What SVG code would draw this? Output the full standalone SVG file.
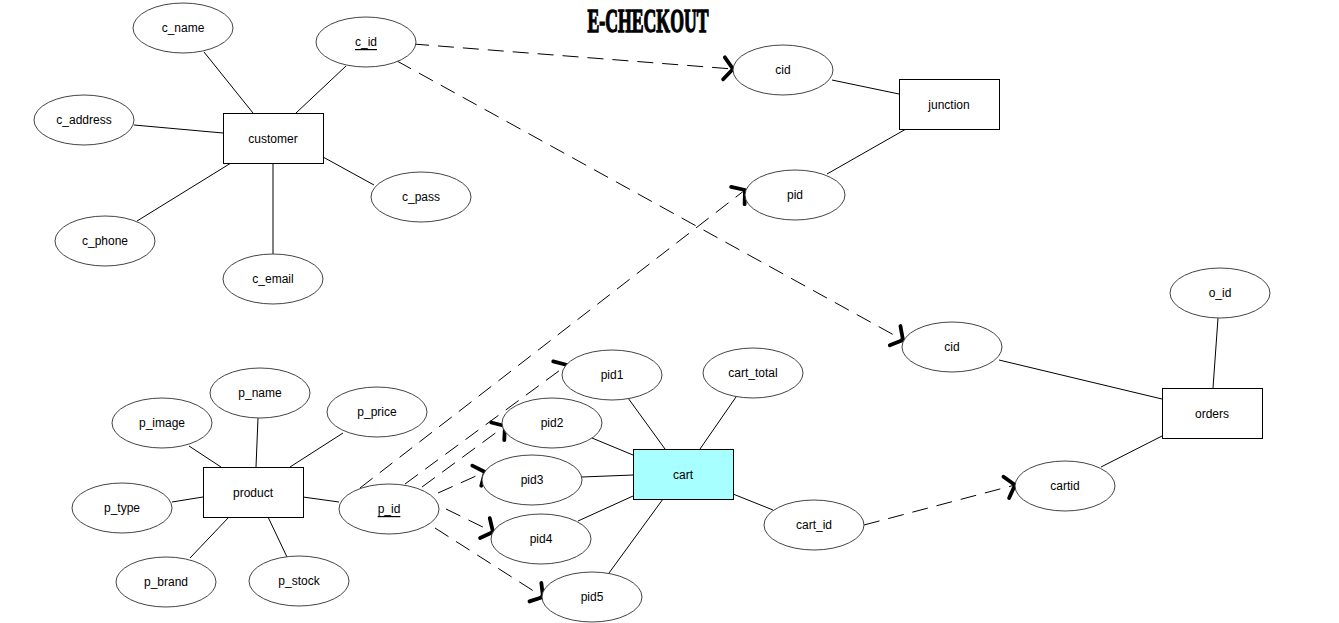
<svg xmlns="http://www.w3.org/2000/svg" width="1339" height="623" viewBox="0 0 1339 623">
<style>
.e{fill:#fff;stroke:#444;stroke-width:1}
.r{fill:#fff;stroke:#000;stroke-width:1}
.t{font-family:"Liberation Sans",Arial,sans-serif;font-size:12px;fill:#000;text-anchor:middle;dominant-baseline:central}
.u{text-decoration:underline}
.l{stroke:#000;stroke-width:1;fill:none}
.d{stroke:#000;stroke-width:1;fill:none;stroke-dasharray:16 9;marker-end:url(#ah)}
</style>
<defs>
<marker id="ah" markerUnits="userSpaceOnUse" markerWidth="24" markerHeight="28" refX="13" refY="14" orient="auto" viewBox="0 0 24 28">
<path d="M4,3 L13,14 L4,25" fill="none" stroke="#000" stroke-width="3.8" stroke-linecap="round" stroke-linejoin="round"/>
</marker>
</defs>
<rect width="1339" height="623" fill="#fff"/>
<text x="648" y="32" font-family="'Liberation Serif','DejaVu Serif',serif" font-weight="900" font-size="33" textLength="121" lengthAdjust="spacingAndGlyphs" text-anchor="middle" fill="#000" stroke="#000" stroke-width="1.4">E-CHECKOUT</text>
<g id="connectors">
<line class="l" x1="204" y1="52" x2="253" y2="113"/>
<line class="l" x1="346" y1="66" x2="296" y2="113"/>
<line class="l" x1="134" y1="125" x2="223" y2="133"/>
<line class="l" x1="323" y1="157" x2="374" y2="185"/>
<line class="l" x1="137" y1="221" x2="231" y2="163"/>
<line class="l" x1="273" y1="163" x2="273" y2="254"/>
<line class="l" x1="832" y1="80" x2="899" y2="94"/>
<line class="l" x1="827" y1="174" x2="906" y2="129"/>
<line class="l" x1="1218" y1="318" x2="1213" y2="388"/>
<line class="l" x1="999" y1="360" x2="1162" y2="399"/>
<line class="l" x1="1101" y1="467" x2="1162" y2="436"/>
<line class="l" x1="628" y1="398" x2="665" y2="449"/>
<line class="l" x1="736" y1="397" x2="700" y2="449"/>
<line class="l" x1="592" y1="438" x2="633" y2="455"/>
<line class="l" x1="582" y1="477" x2="633" y2="475"/>
<line class="l" x1="578" y1="521" x2="633" y2="496"/>
<line class="l" x1="609" y1="573" x2="663" y2="499"/>
<line class="l" x1="733" y1="494" x2="773" y2="510"/>
<line class="l" x1="258" y1="418" x2="256" y2="467"/>
<line class="l" x1="343" y1="433" x2="290" y2="467"/>
<line class="l" x1="189" y1="446" x2="221" y2="467"/>
<line class="l" x1="172" y1="502" x2="203" y2="497"/>
<line class="l" x1="190" y1="558" x2="229" y2="517"/>
<line class="l" x1="287" y1="557" x2="268" y2="517"/>
<line class="l" x1="303" y1="497" x2="339" y2="502"/>
<line class="d" x1="413" y1="44" x2="733" y2="69"/>
<line class="d" x1="397" y1="61" x2="903" y2="340"/>
<line class="d" x1="360" y1="488" x2="745" y2="190"/>
<line class="d" x1="405" y1="484" x2="567" y2="365"/>
<line class="d" x1="422" y1="487" x2="505" y2="426"/>
<line class="d" x1="438" y1="493" x2="485" y2="472"/>
<line class="d" x1="446" y1="509" x2="493" y2="532"/>
<line class="d" x1="435" y1="528" x2="543" y2="597"/>
<line class="d" x1="864" y1="525" x2="1015" y2="485"/>
</g>
<g id="c_name"><ellipse class="e" cx="183" cy="28" rx="50" ry="25"/><text class="t" x="183" y="28">c_name</text></g>
<g id="c_id"><ellipse class="e" cx="366" cy="42" rx="50" ry="25"/><text class="t u" x="366" y="42">c_id</text></g>
<g id="c_address"><ellipse class="e" cx="84" cy="120" rx="50" ry="25"/><text class="t" x="84" y="120">c_address</text></g>
<g id="customer"><rect class="r" x="223.5" y="113.5" width="100" height="50"/><text class="t" x="273" y="139">customer</text></g>
<g id="c_pass"><ellipse class="e" cx="421" cy="197" rx="50" ry="25"/><text class="t" x="421" y="197">c_pass</text></g>
<g id="c_phone"><ellipse class="e" cx="105" cy="241" rx="50" ry="25"/><text class="t" x="105" y="241">c_phone</text></g>
<g id="c_email"><ellipse class="e" cx="273" cy="279" rx="50" ry="25"/><text class="t" x="273" y="279">c_email</text></g>
<g id="j_cid"><ellipse class="e" cx="783" cy="70" rx="50" ry="25"/><text class="t" x="783" y="70">cid</text></g>
<g id="junction"><rect class="r" x="899.5" y="79.5" width="100" height="50"/><text class="t" x="949" y="105">junction</text></g>
<g id="j_pid"><ellipse class="e" cx="795" cy="195" rx="50" ry="25"/><text class="t" x="795" y="195">pid</text></g>
<g id="o_id"><ellipse class="e" cx="1220" cy="293" rx="50" ry="25"/><text class="t" x="1220" y="293">o_id</text></g>
<g id="o_cid"><ellipse class="e" cx="952" cy="347" rx="50" ry="25"/><text class="t" x="952" y="347">cid</text></g>
<g id="orders"><rect class="r" x="1162.5" y="388.5" width="100" height="50"/><text class="t" x="1212" y="414">orders</text></g>
<g id="cartid"><ellipse class="e" cx="1065" cy="486" rx="50" ry="25"/><text class="t" x="1065" y="486">cartid</text></g>
<g id="pid1"><ellipse class="e" cx="612" cy="375" rx="50" ry="25"/><text class="t" x="612" y="375">pid1</text></g>
<g id="cart_total"><ellipse class="e" cx="753" cy="373" rx="50" ry="25"/><text class="t" x="753" y="373">cart_total</text></g>
<g id="pid2"><ellipse class="e" cx="552" cy="423" rx="50" ry="25"/><text class="t" x="552" y="423">pid2</text></g>
<g id="pid3"><ellipse class="e" cx="532" cy="480" rx="50" ry="25"/><text class="t" x="532" y="480">pid3</text></g>
<g id="cart"><rect x="633.5" y="449.5" width="100" height="50" fill="#A8FFFF" stroke="#000"/><text class="t" x="683" y="475">cart</text></g>
<g id="pid4"><ellipse class="e" cx="541" cy="539" rx="50" ry="25"/><text class="t" x="541" y="539">pid4</text></g>
<g id="pid5"><ellipse class="e" cx="592" cy="597" rx="50" ry="25"/><text class="t" x="592" y="597">pid5</text></g>
<g id="cart_id"><ellipse class="e" cx="814" cy="525" rx="50" ry="25"/><text class="t" x="814" y="525">cart_id</text></g>
<g id="p_id"><ellipse class="e" cx="389" cy="509" rx="50" ry="25"/><text class="t u" x="389" y="509">p_id</text></g>
<g id="p_price"><ellipse class="e" cx="377" cy="412" rx="50" ry="25"/><text class="t" x="377" y="412">p_price</text></g>
<g id="p_name"><ellipse class="e" cx="260" cy="393" rx="50" ry="25"/><text class="t" x="260" y="393">p_name</text></g>
<g id="p_image"><ellipse class="e" cx="162" cy="423" rx="50" ry="25"/><text class="t" x="162" y="423">p_image</text></g>
<g id="product"><rect class="r" x="203.5" y="467.5" width="100" height="50"/><text class="t" x="253" y="493">product</text></g>
<g id="p_type"><ellipse class="e" cx="122" cy="508" rx="50" ry="25"/><text class="t" x="122" y="508">p_type</text></g>
<g id="p_brand"><ellipse class="e" cx="166" cy="582" rx="50" ry="25"/><text class="t" x="166" y="582">p_brand</text></g>
<g id="p_stock"><ellipse class="e" cx="299" cy="581" rx="50" ry="25"/><text class="t" x="299" y="581">p_stock</text></g>
</svg>
